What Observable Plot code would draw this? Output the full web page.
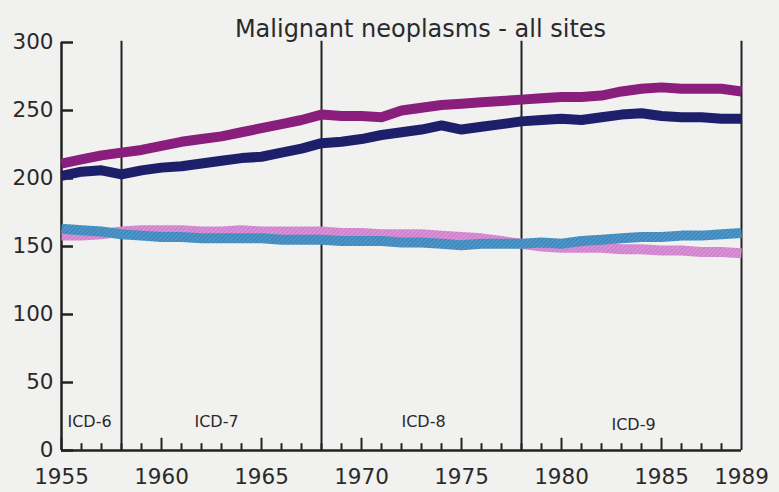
<!DOCTYPE html>
<html>
<head>
<meta charset="utf-8">
<script src="https://cdn.jsdelivr.net/npm/d3@7"></script>
<script src="https://cdn.jsdelivr.net/npm/@observablehq/plot@0.6"></script>
<style>
  html, body { margin: 0; padding: 0; background: #f1f1f0; }
  #chart svg { display: block; background: #f1f1f0; }
</style>
</head>
<body>
<div id="chart"></div>
<script>
const title = "Malignant neoplasms - all sites";
const years = d3.range(1955, 1990);
const seriesPurple = [211,214,217,219,221,224,227,229,231,234,237,240,243,247,246,246,245,250,252,254,255,256,257,258,259,260,260,261,264,266,267,266,266,266,264];
const seriesNavy   = [202,205,206,203,206,208,209,211,213,215,216,219,222,226,227,229,232,234,236,239,236,238,240,242,243,244,243,245,247,248,246,245,245,244,244];
const seriesBlue   = [163,162,161,159,158,157,157,156,156,156,156,155,155,155,154,154,154,153,153,152,151,152,152,152,153,152,154,155,156,157,157,158,158,159,160];
const seriesPink   = [158,158,159,161,162,162,162,161,161,162,161,161,161,161,160,160,159,159,159,158,157,156,154,152,150,149,149,149,148,148,147,147,146,146,145];
const yTicks = [0, 50, 100, 150, 200, 250, 300];
const xTickLabels = [1955, 1960, 1965, 1970, 1975, 1980, 1985, 1989];
const majorTicks = [1955, 1960, 1965, 1970, 1975, 1980, 1985];
const minorTicks = years.filter(y => y % 5 !== 0 && y < 1989);
const revisionYears = [1958, 1968, 1978, 1989];
const icdLabels = ["ICD-6", "ICD-7", "ICD-8", "ICD-9"];
const icdX = [1956.4, 1962.75, 1973.1, 1983.6];
const icdY = [21, 21, 21, 19];

const toRows = (vals) => years.map((yr, i) => ({year: yr, value: vals[i]}));
const icdRows = icdLabels.map((t, i) => ({label: t, x: icdX[i], y: icdY[i]}));

const ink = "#222";
const textInk = "#2a2a2a";
const chart = Plot.plot({
  width: 779,
  height: 492,
  marginLeft: 61,
  marginRight: 38,
  marginTop: 42,
  marginBottom: 42,
  style: {fontFamily: "DejaVu Sans, sans-serif", fontSize: "21px", color: textInk, background: "#f1f1f0"},
  x: {domain: [1955, 1989], axis: null},
  y: {domain: [0, 300], axis: null},
  marks: [
    Plot.axisX(xTickLabels, {tickSize: 0, tickPadding: 18, tickFormat: d => String(d), fontSize: 21.5, fill: textInk}),
    Plot.axisY(yTicks, {tickSize: 0, tickPadding: 8, fontSize: 21.5, fill: textInk}),
    Plot.ruleX(revisionYears, {y1: 0, y2: 301, stroke: ink, strokeWidth: 2}),
    Plot.ruleX(minorTicks, {y1: 0, y2: 5, stroke: ink, strokeWidth: 2}),
    Plot.ruleX(majorTicks, {y1: 0, y2: 9, stroke: ink, strokeWidth: 2}),
    Plot.ruleY(yTicks, {x1: 1955, x2: 1955.6, stroke: ink, strokeWidth: 2.5}),
    Plot.ruleX([1955], {y1: 0, y2: 300, stroke: ink, strokeWidth: 2.5}),
    Plot.ruleY([0], {x1: 1955, x2: 1989, stroke: ink, strokeWidth: 2.5}),
    Plot.line(toRows(seriesPurple), {x: "year", y: "value", stroke: "#8a1e7c", strokeWidth: 10, strokeLinecap: "butt"}),
    Plot.line(toRows(seriesNavy), {x: "year", y: "value", stroke: "#1e1f6b", strokeWidth: 10, strokeLinecap: "butt"}),
    Plot.line(toRows(seriesPink), {x: "year", y: "value", stroke: "url(#hatchPink)", strokeWidth: 10, strokeLinecap: "butt"}),
    Plot.line(toRows(seriesBlue), {x: "year", y: "value", stroke: "url(#hatchBlue)", strokeWidth: 10, strokeLinecap: "butt"}),
    Plot.text(icdRows, {x: "x", y: "y", text: "label", fontSize: 16, fill: textInk}),
    Plot.text([title], {frameAnchor: "top", dx: 19, dy: -23, fontSize: 24, fill: textInk})
  ]
});

// hatch patterns for the two lighter series
const ns = "http://www.w3.org/2000/svg";
const defs = document.createElementNS(ns, "defs");
function hatch(id, base, stripe) {
  const p = document.createElementNS(ns, "pattern");
  p.setAttribute("id", id);
  p.setAttribute("patternUnits", "userSpaceOnUse");
  p.setAttribute("width", "3");
  p.setAttribute("height", "3");
  p.setAttribute("patternTransform", "rotate(45)");
  const r = document.createElementNS(ns, "rect");
  r.setAttribute("width", "3"); r.setAttribute("height", "3"); r.setAttribute("fill", base);
  const l = document.createElementNS(ns, "rect");
  l.setAttribute("width", "1.2"); l.setAttribute("height", "3"); l.setAttribute("fill", stripe);
  p.appendChild(r); p.appendChild(l);
  defs.appendChild(p);
}
hatch("hatchBlue", "#4f98c9", "#3b82b8");
hatch("hatchPink", "#dc93d8", "#c97cc6");
chart.insertBefore(defs, chart.firstChild);
document.getElementById("chart").appendChild(chart);
</script>
</body>
</html>
